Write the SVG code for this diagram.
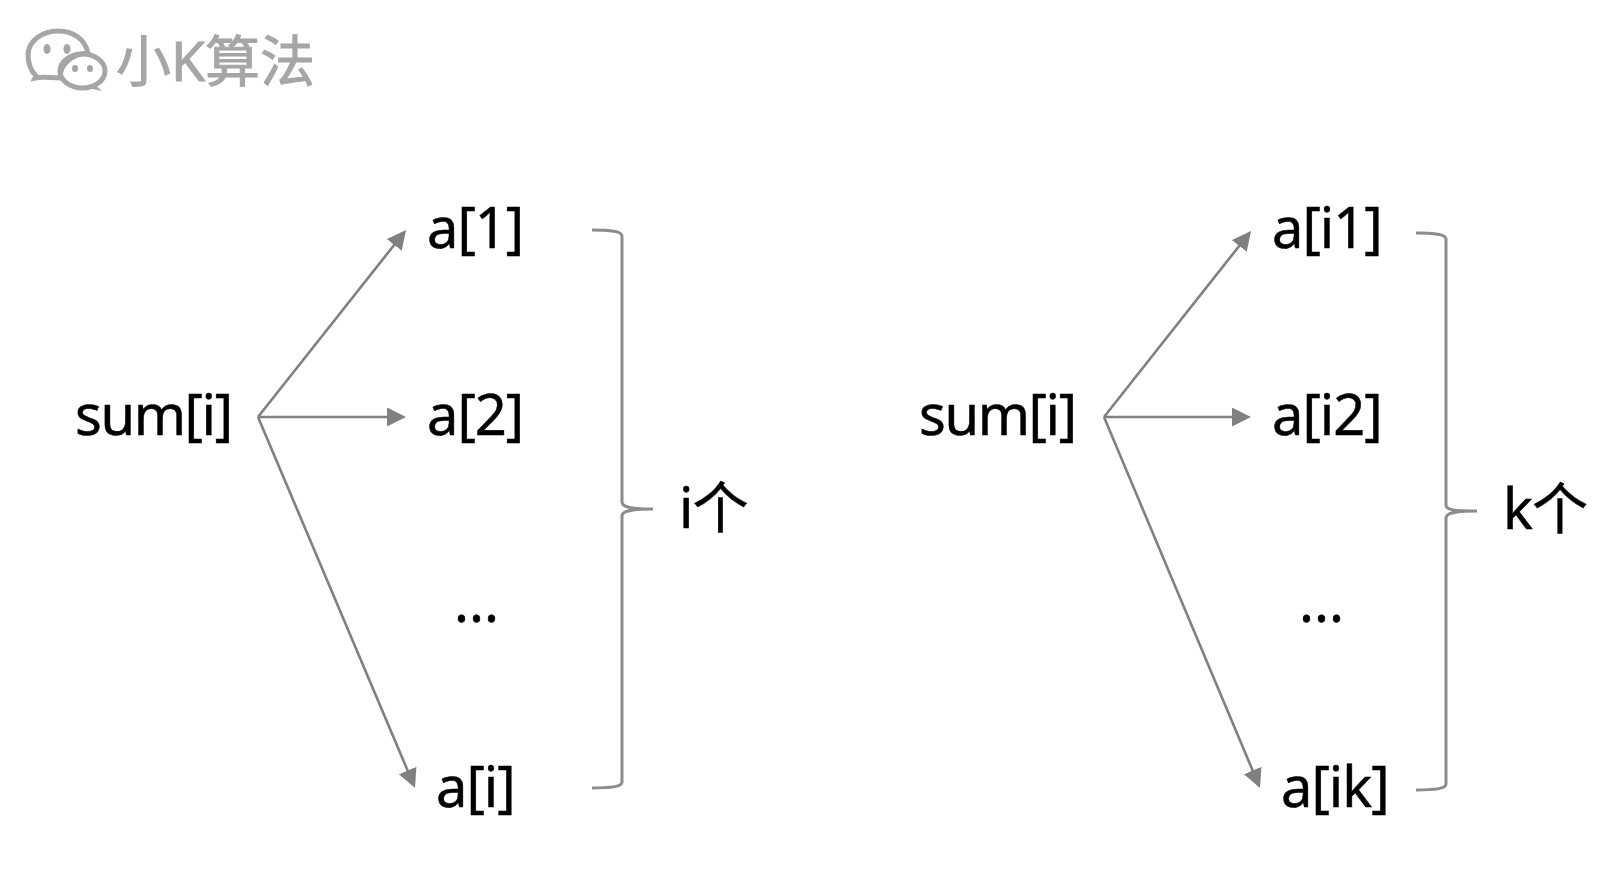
<svg xmlns="http://www.w3.org/2000/svg" width="1616" height="878" viewBox="0 0 1616 878">
<style>
text{font-family:"Noto Sans","Noto Sans CJK SC",sans-serif;font-size:56px;letter-spacing:-1px;fill:#000;stroke:#000;stroke-width:.5px}
.c{fill:none;stroke:#808080;stroke-width:2.6}
.b{fill:none;stroke:#8c8c8c;stroke-width:3}
text.wm{fill:#a6a6a6;stroke:#a6a6a6;stroke-width:1px;font-size:55px;letter-spacing:0}
text.s{letter-spacing:-1.4px}
text.d{letter-spacing:0}
.ic{fill:none;stroke:#a6a6a6;stroke-width:5}
.icf{fill:#a6a6a6}
</style>
<defs><marker id="ah" markerUnits="userSpaceOnUse" markerWidth="20" markerHeight="20" refX="13" refY="9.5" orient="auto"><path d="M0,0L19,9.5L0,19z" fill="#808080"/></marker></defs>
<rect width="1616" height="878" fill="#fff"/>
<g id="watermark">
<path class="ic" d="M36,76C30,70 28,62 28,54C29,40 43,31 58,31C73,31 85,39 88,53C72,54 60,64 60,78C50,78 44,76 35,78z"/>
<ellipse class="ic" cx="82.5" cy="71" rx="22.5" ry="17"/>
<path class="icf" d="M94,84L102,91L88,88z"/>
<ellipse class="icf" cx="47" cy="49" rx="3.5" ry="5"/><ellipse class="icf" cx="67" cy="49" rx="3.5" ry="5"/>
<ellipse class="icf" cx="75" cy="68.500" rx="3" ry="3.5"/><ellipse class="icf" cx="90" cy="68.500" rx="3" ry="3.5"/>
<text class="wm" x="116" y="81">小K算法</text>
</g>
<g id="connectors">
<path class="c" marker-end="url(#ah)" d="M258,417L402.3,234.700"/>
<path class="c" marker-end="url(#ah)" d="M258,417L400,417"/>
<path class="c" marker-end="url(#ah)" d="M258,417L412.7,782.500"/>
<path class="c" marker-end="url(#ah)" d="M1104,417L1247.3,235.700"/>
<path class="c" marker-end="url(#ah)" d="M1104,417L1245,417"/>
<path class="c" marker-end="url(#ah)" d="M1104,417L1257.7,782.500"/>
</g>
<g id="brace-left"><path class="b" d="M592,230C610,230 622,231 622,236V502C622,507 630,509 653,509C630,509 622,511 622,516V782C622,787 610,788 592,788"/></g>
<g id="brace-right"><path class="b" d="M1416,233C1434,233 1446,234 1446,239V505C1446,510 1454,511 1477,511C1454,511 1446,513 1446,518V784C1446,789 1434,790 1416,790"/></g>
<g id="left-sum"><text class="s" x="75" y="435">sum[i]</text></g>
<g id="left-a1"><text x="427" y="248">a[1]</text></g>
<g id="left-a2"><text x="427" y="435">a[2]</text></g>
<g id="left-dots"><text class="d" x="454" y="622">...</text></g>
<g id="left-ai"><text x="436" y="807">a[i]</text></g>
<g id="left-count"><text x="679" y="528">i个</text></g>
<g id="right-sum"><text class="s" x="919" y="435">sum[i]</text></g>
<g id="right-a1"><text x="1272" y="248">a[i1]</text></g>
<g id="right-a2"><text x="1272" y="435">a[i2]</text></g>
<g id="right-dots"><text class="d" x="1299" y="622">...</text></g>
<g id="right-aik"><text x="1281" y="807">a[ik]</text></g>
<g id="right-count"><text x="1503" y="529">k个</text></g>
</svg>
